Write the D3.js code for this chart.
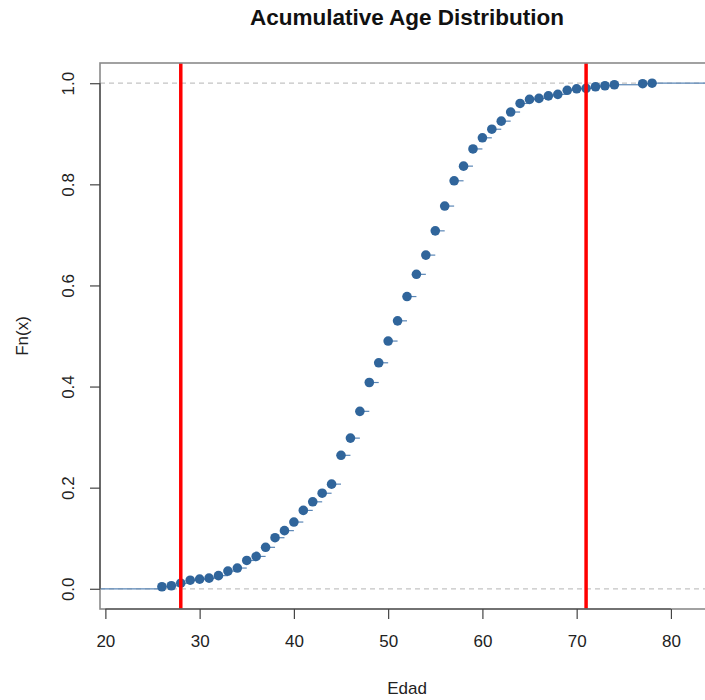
<!DOCTYPE html>
<html>
<head>
<meta charset="utf-8">
<script src="https://cdn.jsdelivr.net/npm/d3@7"></script>
<style>
  body { margin: 0; background: #fff; }
  text { font-family: "Liberation Sans", Arial, sans-serif; }
</style>
</head>
<body>
<div id="chart"></div>
<script>
// ages observed and the empirical cumulative frequency at each age
const ages = [26, 27, 28, 29, 30, 31, 32, 33, 34, 35, 36, 37, 38, 39, 40, 41, 42, 43, 44,
  45, 46, 47, 48, 49, 50, 51, 52, 53, 54, 55, 56, 57, 58, 59, 60, 61, 62, 63, 64,
  65, 66, 67, 68, 69, 70, 71, 72, 73, 74, 77, 78];
const cumFreq = [0.004, 0.006, 0.011, 0.017, 0.019, 0.021, 0.026, 0.035, 0.041, 0.056,
  0.064, 0.082, 0.101, 0.115, 0.132, 0.155, 0.172, 0.189, 0.207, 0.264, 0.298, 0.351,
  0.408, 0.447, 0.490, 0.530, 0.578, 0.622, 0.660, 0.708, 0.757, 0.807, 0.836, 0.870,
  0.892, 0.909, 0.925, 0.943, 0.960, 0.968, 0.970, 0.975, 0.978, 0.986, 0.989, 0.990,
  0.993, 0.995, 0.997, 0.999, 1.0];
const cutLines = [28, 71];
const xTicks = [20, 30, 40, 50, 60, 70, 80];
const yTicks = [0, 0.2, 0.4, 0.6, 0.8, 1.0];

const W = 705, H = 700;
const plot = { left: 100, right: 714, top: 63, bottom: 609 };

const svg = d3.select("#chart")
  .append("svg")
  .attr("width", W)
  .attr("height", H);

svg.append("rect").attr("width", W).attr("height", H).attr("fill", "#fff");

const x = d3.scaleLinear()
  .domain([19.43, 84.57])
  .range([plot.left, plot.right]);

const y = d3.scaleLinear()
  .domain([-0.04, 1.04])
  .range([plot.bottom, plot.top]);

svg.append("clipPath").attr("id", "clip")
  .append("rect")
  .attr("x", plot.left).attr("y", plot.top)
  .attr("width", plot.right - plot.left)
  .attr("height", plot.bottom - plot.top);

const g = svg.append("g").attr("clip-path", "url(#clip)");

// dashed reference lines at 0 and 1
g.selectAll("line.ref")
  .data([0, 1])
  .join("line")
  .attr("class", "ref")
  .attr("x1", plot.left).attr("x2", plot.right)
  .attr("y1", d => y(d)).attr("y2", d => y(d))
  .attr("stroke", "#c4c4c4")
  .attr("stroke-width", 1.3)
  .attr("stroke-dasharray", "5,4");

// step segments
const steps = [{ x0: 10, x1: ages[0], v: 0 }];
ages.forEach((a, i) => {
  steps.push({ x0: a, x1: i < ages.length - 1 ? ages[i + 1] : 100, v: cumFreq[i] });
});

g.selectAll("line.step")
  .data(steps)
  .join("line")
  .attr("class", "step")
  .attr("x1", d => x(d.x0)).attr("x2", d => x(d.x1))
  .attr("y1", d => y(d.v)).attr("y2", d => y(d.v))
  .attr("stroke", "#5a86b6")
  .attr("stroke-width", 1.2);

// points
g.selectAll("circle")
  .data(ages)
  .join("circle")
  .attr("cx", d => x(d))
  .attr("cy", (d, i) => y(cumFreq[i]))
  .attr("r", 4.8)
  .attr("fill", "#30659b");

// red vertical lines
g.selectAll("line.cut")
  .data(cutLines)
  .join("line")
  .attr("class", "cut")
  .attr("x1", d => x(d)).attr("x2", d => x(d))
  .attr("y1", plot.top).attr("y2", plot.bottom)
  .attr("stroke", "#ff0000")
  .attr("stroke-width", 3.5);

// box
svg.append("rect")
  .attr("x", plot.left).attr("y", plot.top)
  .attr("width", plot.right - plot.left)
  .attr("height", plot.bottom - plot.top)
  .attr("fill", "none")
  .attr("stroke", "#8a8a8a")
  .attr("stroke-width", 1.6);

// X axis
const xAxis = svg.append("g")
  .attr("transform", `translate(0, ${plot.bottom})`)
  .call(d3.axisBottom(x).tickValues(xTicks).tickSize(10).tickPadding(16).tickFormat(d3.format("d")));
xAxis.select(".domain").remove();
xAxis.append("line")
  .attr("x1", x(xTicks[0])).attr("x2", x(xTicks[xTicks.length - 1]))
  .attr("stroke", "#444").attr("stroke-width", 1.2);
xAxis.selectAll(".tick line").attr("stroke", "#444").attr("stroke-width", 1.2);
xAxis.selectAll(".tick text")
  .style("font-size", "17px")
  .attr("fill", "#222");

// Y axis
const yAxis = svg.append("g")
  .attr("transform", `translate(${plot.left}, 0)`)
  .call(d3.axisLeft(y).tickValues(yTicks).tickSize(10).tickFormat(d3.format(".1f")));
yAxis.select(".domain").remove();
yAxis.append("line")
  .attr("y1", y(0)).attr("y2", y(1))
  .attr("stroke", "#444").attr("stroke-width", 1.2);
yAxis.selectAll(".tick line").attr("stroke", "#444").attr("stroke-width", 1.2);
yAxis.selectAll(".tick text")
  .attr("x", null).attr("dy", null)
  .attr("transform", "translate(-32,0) rotate(-90)")
  .attr("text-anchor", "middle")
  .attr("dominant-baseline", "central")
  .style("font-size", "17px")
  .attr("fill", "#222");

// Title
svg.append("text")
  .attr("x", (plot.left + plot.right) / 2)
  .attr("y", 25)
  .attr("text-anchor", "middle")
  .style("font-size", "22.5px")
  .style("font-weight", "bold")
  .attr("fill", "#111")
  .text("Acumulative Age Distribution");

// X axis label
svg.append("text")
  .attr("x", (plot.left + plot.right) / 2)
  .attr("y", 694)
  .attr("text-anchor", "middle")
  .style("font-size", "17px")
  .attr("fill", "#222")
  .text("Edad");

// Y axis label
svg.append("text")
  .attr("transform", `translate(22, ${(plot.top + plot.bottom) / 2}) rotate(-90)`)
  .attr("text-anchor", "middle")
  .attr("dominant-baseline", "central")
  .style("font-size", "17px")
  .attr("fill", "#222")
  .text("Fn(x)");
</script>
</body>
</html>
